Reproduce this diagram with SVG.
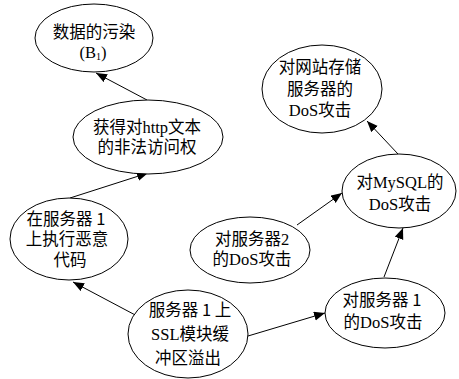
<svg xmlns="http://www.w3.org/2000/svg" width="459" height="379" viewBox="0 0 459 379">
<style>
.n{fill:#fff;stroke:#000;stroke-width:1}
.t{font-family:"Liberation Serif","Noto Sans CJK SC",serif;font-size:16.5px;fill:#000;text-anchor:middle}
.c{font-family:"Noto Sans CJK SC",sans-serif}
.e{fill:none;stroke:#000;stroke-width:1}
</style>
<defs>
<marker id="a" markerUnits="userSpaceOnUse" markerWidth="12" markerHeight="10" refX="11" refY="4.5" orient="auto">
<path d="M0,0 L11,4.5 L0,9 z" fill="#000"/>
</marker>
</defs>
<g id="edges">
<path class="e" d="M147,100 L96,73" marker-end="url(#a)"/>
<path class="e" d="M70,198 L148,173" marker-end="url(#a)"/>
<path class="e" d="M139,317 L73,282" marker-end="url(#a)"/>
<path class="e" d="M248,336 L325,313" marker-end="url(#a)"/>
<path class="e" d="M384,277 L403,228" marker-end="url(#a)"/>
<path class="e" d="M297,225 L342,193" marker-end="url(#a)"/>
<path class="e" d="M398,154 L367,121" marker-end="url(#a)"/>
</g>
<g id="n1"><ellipse class="n" cx="94" cy="38" rx="59" ry="34"/>
<text class="t" x="94" y="38">数据的污染</text>
<text class="t" x="93" y="58">(B<tspan font-size="10" dy="2">1</tspan><tspan dy="-2">)</tspan></text></g>
<g id="n2"><ellipse class="n" cx="148" cy="137" rx="75" ry="37"/>
<text class="t" x="147" y="133">获得对http文本</text>
<text class="t" x="147" y="153">的非法访问权</text></g>
<g id="n3"><ellipse class="n" cx="69" cy="239" rx="59" ry="41"/>
<text class="t" x="66" y="225">在服务器<tspan class="c"> 1</tspan></text>
<text class="t" x="67" y="245">上执行恶意</text>
<text class="t" x="70" y="266">代码</text></g>
<g id="n4"><ellipse class="n" cx="188" cy="334" rx="60" ry="44"/>
<text class="t" x="190" y="316">服务器<tspan class="c"> 1 </tspan>上</text>
<text class="t" x="190" y="340">SSL模块缓</text>
<text class="t" x="188" y="364">冲区溢出</text></g>
<g id="n5"><ellipse class="n" cx="322" cy="89" rx="60" ry="44"/>
<text class="t" x="320" y="73">对网站存储</text>
<text class="t" x="320" y="95">服务器的</text>
<text class="t" x="320" y="116">DoS攻击</text></g>
<g id="n6"><ellipse class="n" cx="399" cy="191" rx="57" ry="37"/>
<text class="t" x="400" y="188">对MySQL的</text>
<text class="t" x="400" y="210">DoS攻击</text></g>
<g id="n7"><ellipse class="n" cx="250" cy="250" rx="60" ry="33"/>
<text class="t" x="252" y="245">对服务器2</text>
<text class="t" x="252" y="265">的DoS攻击</text></g>
<g id="n8"><ellipse class="n" cx="385" cy="313" rx="60" ry="35"/>
<text class="t" x="382" y="306">对服务器<tspan class="c"> 1</tspan></text>
<text class="t" x="383" y="328">的DoS攻击</text></g>
</svg>
